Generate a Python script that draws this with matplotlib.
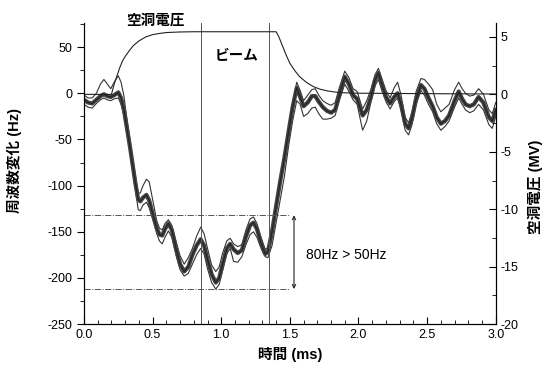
import matplotlib
matplotlib.use('Agg')
import matplotlib.pyplot as plt
from matplotlib.ticker import MultipleLocator

plt.rcParams['font.family'] = ['Liberation Sans', 'Noto Sans CJK JP', 'DejaVu Sans']
plt.rcParams['axes.unicode_minus'] = False

# frequency change traces (Hz)
t_ms = [0.00, 0.03, 0.06, 0.09, 0.12, 0.145, 0.17, 0.195, 0.22, 0.25, 0.27, 0.29,
        0.31, 0.335, 0.355, 0.375, 0.395, 0.41, 0.43, 0.455, 0.475, 0.50, 0.53, 0.55,
        0.57, 0.59, 0.615, 0.64, 0.67, 0.70, 0.73, 0.76, 0.79, 0.82, 0.85, 0.875,
        0.90, 0.93, 0.96, 0.985, 1.01, 1.04, 1.065, 1.09, 1.12, 1.15, 1.18, 1.21,
        1.235, 1.26, 1.29, 1.32, 1.34, 1.37, 1.40, 1.43, 1.46, 1.49, 1.52, 1.55,
        1.575, 1.60, 1.63, 1.66, 1.685, 1.71, 1.74, 1.77, 1.80, 1.83, 1.86, 1.90,
        1.93, 1.96, 1.99, 2.03, 2.06, 2.09, 2.12, 2.145, 2.17, 2.20, 2.23, 2.26,
        2.285, 2.31, 2.34, 2.365, 2.39, 2.42, 2.455, 2.48, 2.51, 2.54, 2.57, 2.60,
        2.63, 2.66, 2.70, 2.73, 2.755, 2.78, 2.81, 2.84, 2.875, 2.91, 2.95, 2.975, 3.00]
f_mean = [-7, -10, -11, -7, -3, -1, -3, -4, -2, 1, -5, -17,
          -35, -58, -78, -98, -115, -117, -113, -110, -116, -130, -146, -153,
          -154, -147, -141, -148, -168, -185, -193, -188, -175, -165, -158, -165,
          -180, -196, -205, -200, -185, -168, -163, -169, -173, -170, -155, -143,
          -140, -147, -162, -174, -172, -150, -122, -95, -70, -42, -15, 6,
          -4, -14, -10, -3, -3, -9, -15, -19, -21, -18, -2, 18,
          10, -2, -6, -24, -18, -4, 14, 22, 10, -4, -11, -4,
          0, -12, -33, -38, -27, -6, 9, 5, -5, -14, -26, -33,
          -30, -24, -8, 2, -6, -12, -14, -12, -4, -10, -26, -30, -18]
f_hi = [-2, -5, -5, 0, 10, 15, 10, 5, 12, 19, 12, -2,
        -25, -50, -70, -90, -108, -108, -100, -93, -96, -115, -138, -146,
        -148, -141, -137, -143, -160, -176, -185, -178, -168, -155, -145, -152,
        -168, -186, -193, -188, -173, -160, -157, -163, -166, -164, -148, -136,
        -134, -141, -156, -169, -167, -144, -117, -90, -65, -38, -10, 12,
        3, -8, -2, 4, 5, -2, -8, -11, -13, -10, 6, 24,
        17, 5, 2, -17, -8, 4, 20, 27, 16, 3, -5, 6,
        12, -2, -26, -32, -20, 2, 16, 15, 10, 4, -12, -20,
        -16, -12, 4, 12, 5, 0, -3, -2, 5, -1, -18, -22, -10]
f_lo = [-12, -15, -16, -11, -7, -5, -7, -8, -6, -5, -12, -24,
        -42, -64, -85, -105, -126, -127, -121, -118, -124, -136, -152, -160,
        -163, -156, -149, -156, -175, -191, -198, -195, -185, -175, -168, -174,
        -190, -205, -212, -207, -192, -174, -168, -182, -183, -177, -164, -153,
        -150, -156, -168, -177, -178, -165, -140, -115, -90, -58, -30, -8,
        -12, -25, -22, -16, -15, -22, -28, -28, -27, -24, -8, 10,
        2, -7, -12, -40, -30, -10, 8, 15, 3, -9, -17, -9,
        -5, -18, -40, -45, -34, -12, 3, -2, -12, -20, -33, -40,
        -36, -30, -15, -5, -12, -18, -21, -19, -12, -18, -34, -38, -25]

# cavity voltage (MV)
t_v = [0.0, 0.20, 0.22, 0.24, 0.26, 0.28, 0.30, 0.33, 0.36, 0.40, 0.45, 0.50, 0.55,
       0.60, 0.70, 0.80, 1.40, 1.42, 1.44, 1.47, 1.50, 1.54, 1.57, 1.62, 1.67, 1.72,
       1.77, 1.83, 1.89, 2.0, 2.5, 3.0]
v_mv = [0, 0, 0.9, 1.6, 2.3, 2.9, 3.3, 3.8, 4.25, 4.65, 5.0, 5.2, 5.3,
        5.38, 5.43, 5.45, 5.45, 5.0, 4.4, 3.5, 2.7, 2.0, 1.55, 1.05, 0.68, 0.45,
        0.31, 0.2, 0.14, 0.1, 0.06, 0.03]

beam_lines = [0.85, 1.35]
level_lines = [-132, -212]

fig = plt.figure(figsize=(5.49, 3.73), dpi=100)
ax = fig.add_axes([0.153, 0.131, 0.750, 0.807])
ax2 = ax.twinx()

ax.plot(t_ms, f_hi, color='#333333', lw=0.8)
ax.plot(t_ms, f_lo, color='#333333', lw=0.8)
ax.plot(t_ms, f_mean, color='#444444', lw=3.0)
ax.plot(t_ms, f_mean, color='#222222', lw=0.8)

for x in beam_lines:
    ax.axvline(x, color='#555555', lw=0.7)
for y in level_lines:
    ax.plot([0, 1.50], [y, y], color='#555555', lw=0.7, ls='-.')
ax.annotate('', xy=(1.53, level_lines[1]), xytext=(1.53, level_lines[0]),
            arrowprops=dict(arrowstyle='<->', color='#222222', lw=0.8,
                            shrinkA=0, shrinkB=0, mutation_scale=6))
ax.text(1.62, -175, '80Hz > 50Hz', fontsize=10, va='center', ha='left')

ax2.plot(t_v, v_mv, color='#222222', lw=0.8)

ax.set_xlim(0, 3.0)
ax.set_ylim(-250, 76)
ax2.set_ylim(-20, 6.2)

ax.xaxis.set_major_locator(MultipleLocator(0.5))
ax.xaxis.set_minor_locator(MultipleLocator(0.1))
ax.yaxis.set_major_locator(MultipleLocator(50))
ax.yaxis.set_minor_locator(MultipleLocator(25))
ax2.yaxis.set_major_locator(MultipleLocator(5))
ax2.yaxis.set_minor_locator(MultipleLocator(2.5))

ax.tick_params(axis='x', which='both', direction='in', labelsize=9)
ax.tick_params(axis='x', which='major', length=5)
ax.tick_params(axis='x', which='minor', length=3)
ax.tick_params(axis='y', which='both', direction='out', labelsize=9)
ax.tick_params(axis='y', which='major', length=5)
ax.tick_params(axis='y', which='minor', length=3)
ax2.tick_params(axis='y', which='both', direction='in', labelsize=9)
ax2.tick_params(axis='y', which='major', length=5)
ax2.tick_params(axis='y', which='minor', length=3)

ax.xaxis.set_major_formatter(plt.FuncFormatter(lambda v, p: f'{v:.1f}'))

for a in (ax, ax2):
    a.spines['top'].set_visible(False)

ax.set_xlabel('時間 (ms)', fontsize=10.5, fontweight='bold', labelpad=4)
fig.text(0.027, 0.57, '周波数変化 (Hz)', rotation=90, fontsize=10.5,
         fontweight='bold', ha='center', va='center')
fig.text(0.975, 0.5, '空洞電圧 (MV)', rotation=90, fontsize=10.5,
         fontweight='bold', ha='center', va='center')

ax.text(0.52, 71, '空洞電圧', fontsize=10.5, fontweight='bold', ha='center', va='bottom')
ax.text(1.11, 40, 'ビーム', fontsize=10.5, fontweight='bold', ha='center', va='center')

fig.savefig('out.png', dpi=100)
